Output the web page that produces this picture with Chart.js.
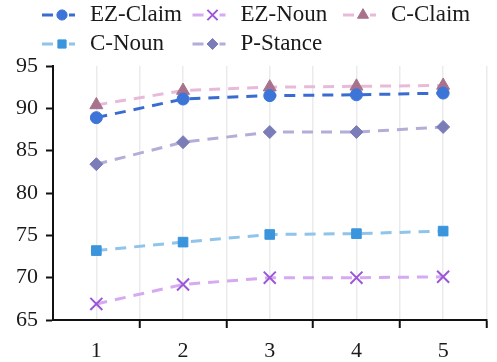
<!DOCTYPE html>
<html><head><meta charset="utf-8">
<script src="https://cdn.jsdelivr.net/npm/chart.js@4"></script>
<style>html,body{margin:0;padding:0;background:#fff}#wrap{width:497px;height:362px;position:relative}</style>
</head><body><div id="wrap"><canvas id="c" width="497" height="362"></canvas></div>
<script>
const categories = [1, 2, 3, 4, 5];
const seriesNames = ['EZ-Claim', 'EZ-Noun', 'C-Claim', 'C-Noun', 'P-Stance'];
const ezClaim = [88.9, 91.1, 91.5, 91.6, 91.8];
const ezNoun  = [66.9, 69.2, 70.0, 70.0, 70.1];
const cClaim  = [90.4, 92.1, 92.5, 92.6, 92.7];
const cNoun   = [73.2, 74.2, 75.1, 75.2, 75.5];
const pStance = [83.4, 86.0, 87.2, 87.2, 87.8];
const yTicks = [65, 70, 75, 80, 85, 90, 95];

const styles = [
  {line:'#3a6bd0', mark:'#3d74d8', ps:'circle', r:6, bw:1},
  {line:'#d5aaf0', mark:'#9b57d8', ps:'crossRot', r:8.5, bw:2},
  {line:'#e8bad9', mark:'#a8728c', ps:'triangle', r:7.5, bw:1},
  {line:'#90c4ea', mark:'#3a95dc', ps:'rect', r:6.8, bw:1},
  {line:'#b3aed7', mark:'#7a7db7', ps:'rectRot', r:6.5, bw:1}
];
const values = [ezClaim, ezNoun, cClaim, cNoun, pStance];

const datasets = seriesNames.map((n, i) => ({
  label: n,
  data: categories.map((c, j) => ({x: c, y: values[i][j]})),
  borderColor: styles[i].line,
  borderWidth: 3,
  borderDash: [11, 8],
  backgroundColor: styles[i].mark,
  pointBackgroundColor: styles[i].mark,
  pointBorderColor: styles[i].mark,
  pointBorderWidth: styles[i].bw,
  pointStyle: styles[i].ps,
  pointRadius: styles[i].r,
  tension: 0
}));

const FONT = 'Liberation Serif';
Chart.defaults.font.family = FONT;

const legendPlugin = {
  id: 'gridLegend',
  afterDraw(chart) {
    const ctx = chart.ctx;
    chart.data.datasets.forEach((ds, i) => {
      const col = i % 3, row = Math.floor(i / 3);
      const x0 = 42 + col * 150.5;
      const y = 15 + row * 29;
      ctx.save();
      ctx.strokeStyle = ds.borderColor;
      ctx.lineWidth = 3;
      ctx.beginPath();
      ctx.moveTo(x0, y); ctx.lineTo(x0 + 11, y);
      ctx.moveTo(x0 + 27, y); ctx.lineTo(x0 + 33, y);
      ctx.stroke();
      ctx.restore();
      ctx.save();
      ctx.fillStyle = ds.pointBackgroundColor;
      ctx.strokeStyle = ds.pointBorderColor;
      ctx.lineWidth = ds.pointBorderWidth;
      Chart.helpers.drawPoint(ctx, {pointStyle: ds.pointStyle, radius: ds.pointRadius * 0.85, rotation: 0, borderWidth: ds.pointBorderWidth}, x0 + 20, y);
      ctx.restore();
      ctx.save();
      ctx.fillStyle = '#1a1a1a';
      ctx.font = '23px "Liberation Serif"';
      ctx.textBaseline = 'middle';
      ctx.textAlign = 'left';
      ctx.fillText(ds.label, x0 + 48, y);
      ctx.restore();
    });
  }
};

new Chart(document.getElementById('c'), {
  type: 'line',
  data: { datasets },
  options: {
    responsive: false,
    animation: false,
    layout: { padding: { top: 66, right: -2, left: 0, bottom: 0 } },
    plugins: { legend: { display: false }, tooltip: { enabled: false } },
    scales: {
      x: {
        type: 'linear',
        min: 0.5, max: 5.5,
        afterBuildTicks(scale) {
          const t = [];
          for (let v = 0.5; v <= 5.5001; v += 0.5) t.push({value: Math.round(v * 10) / 10});
          scale.ticks = t;
        },
        afterFit(scale) { scale.height = 42; scale.paddingRight = 0; scale.paddingLeft = 0; },
        ticks: {
          autoSkip: false,
          maxRotation: 0,
          padding: 10,
          color: '#1a1a1a',
          font: { family: FONT, size: 22 },
          callback(v) { return Number.isInteger(v) ? String(v) : ''; }
        },
        grid: {
          drawOnChartArea: true,
          tickLength: 8,
          lineWidth: 1.5,
          color(ctx) { const v = ctx.tick && ctx.tick.value; return v === 0.5 ? 'rgba(0,0,0,0)' : '#ebebed'; },
          tickColor(ctx) { const v = ctx.tick && ctx.tick.value; return (v !== undefined && !Number.isInteger(v) && v !== 0.5) ? '#111' : 'rgba(0,0,0,0)'; },
          tickWidth: 2
        },
        border: { display: true, color: '#111', width: 2 }
      },
      y: {
        min: 65, max: 95,
        afterBuildTicks(scale) { scale.ticks = yTicks.map(v => ({value: v})); },
        afterFit(scale) { scale.width = 53; },
        ticks: {
          padding: 8,
          color: '#1a1a1a',
          font: { family: FONT, size: 22 }
        },
        grid: { drawOnChartArea: false, tickLength: 7, tickColor: '#111', tickWidth: 2 },
        border: { display: true, color: '#111', width: 2 }
      }
    }
  },
  plugins: [legendPlugin]
});
</script></body></html>
